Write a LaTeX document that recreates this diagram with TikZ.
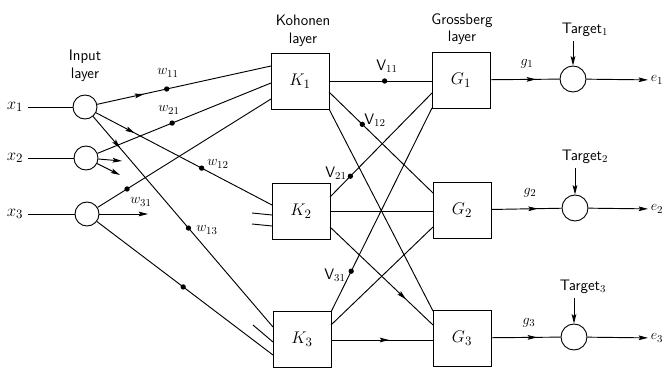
\documentclass[tikz,border=0pt]{standalone}
\usetikzlibrary{arrows.meta,decorations.markings}
\begin{document}
\begin{tikzpicture}[x=0.3mm,y=-0.3mm,line width=0.8pt,font=\sffamily\fontsize{13}{15}\selectfont,
  neuron/.style={circle,draw,minimum size=7.2mm,inner sep=0pt},
  outneuron/.style={circle,draw,minimum size=7.8mm,inner sep=0pt},
  unit/.style={rectangle,draw,minimum width=17.4mm,minimum height=16.8mm,inner sep=0pt,font=\fontsize{15}{17}\selectfont},
  wdot/.style={circle,fill,inner sep=0pt,minimum size=1.6mm},
  lbl/.style={inner sep=0pt},
  tip/.style={-{Stealth[length=8pt,width=4pt,inset=1.5pt]}},
  arrowat/.style={postaction={decorate,decoration={markings,mark=at position #1 with {\arrow{Stealth[length=8pt,width=4pt,inset=1.5pt]}}}}}]
\useasboundingbox (0,0) rectangle (668,368);
% layer titles
\node[align=center,lbl] (intitle) at (85,66) {Input\\layer};
\node[align=center,lbl] (kohtitle) at (303,31) {Kohonen\\layer};
\node[align=center,lbl] (grotitle) at (462,29) {Grossberg\\layer};
% input layer
\node[neuron] (x1n) at (85,107) {};
\node[neuron] (x2n) at (86,158) {};
\node[neuron] (x3n) at (87,214) {};
\node[inner sep=4pt,font=\fontsize{15}{17}\selectfont] (x1l) at (15,107) {$x_1$};
\node[inner sep=4pt,font=\fontsize{15}{17}\selectfont] (x2l) at (15,158) {$x_2$};
\node[inner sep=4pt,font=\fontsize{15}{17}\selectfont] (x3l) at (15,214) {$x_3$};
\draw (x1l) -- (x1n);
\draw (x2l) -- (x2n);
\draw (x3l) -- (x3n);
% Kohonen and Grossberg units
\node[unit] (K1) at (300,81) {$K_1$};
\node[unit] (K2) at (301,211) {$K_2$};
\node[unit] (K3) at (302,339) {$K_3$};
\node[unit] (G1) at (461,80) {$G_1$};
\node[unit] (G2) at (462,210) {$G_2$};
\node[unit] (G3) at (462,338) {$G_3$};
% ports
\coordinate (K1i1) at (271,66);  \coordinate (K1i2) at (271,83);  \coordinate (K1i3) at (271,99);
\coordinate (K2i1) at (272,205); \coordinate (K2i2) at (272,215); \coordinate (K2i3) at (272,226);
\coordinate (K3i1) at (273,327); \coordinate (K3i2) at (273,342); \coordinate (K3i3) at (273,355);
\coordinate (K1o1) at (329,81);  \coordinate (K1o2) at (329,92);  \coordinate (K1o3) at (329,109);
\coordinate (K2o1) at (330,197); \coordinate (K2o2) at (330,211); \coordinate (K2o3) at (330,227);
\coordinate (K3o1) at (331,312); \coordinate (K3o2) at (331,325); \coordinate (K3o3) at (331,340);
\coordinate (G1i1) at (432,81);  \coordinate (G1i2) at (432,93);  \coordinate (G1i3) at (432,108);
\coordinate (G2i1) at (433,193); \coordinate (G2i2) at (433,211); \coordinate (G2i3) at (433,227);
\coordinate (G3i1) at (433,311); \coordinate (G3i2) at (433,325); \coordinate (G3i3) at (433,340);
\coordinate (s21) at (252,213); \coordinate (s22) at (252,224); \coordinate (s31) at (253,325);
\coordinate (a21) at (122,161); \coordinate (a22) at (120,175); \coordinate (a31) at (148,214);
% input -> Kohonen
\draw[arrowat=0.27] (x1n) -- node[wdot,pos=0.40] (d11) {} (K1i1);
\draw[arrowat=0.22] (x1n) -- node[wdot,pos=0.60] (d12) {} (K2i1);
\draw[arrowat=0.15] (x1n) -- node[wdot,pos=0.53] (d13) {} (K3i1);
\draw (x2n) -- node[wdot,pos=0.43] (d21) {} (K1i2);
\draw (x3n) -- node[wdot,pos=0.17] (d31) {} (K1i3);
\draw (x3n) -- node[wdot,pos=0.49] (d33) {} (K3i3);
\draw[tip] (x2n) -- (a21);
\draw[tip] (x2n) -- (a22);
\draw[tip] (x3n) -- (a31);
\draw (s21) -- (K2i2);
\draw (s22) -- (K2i3);
\draw (s31) -- (K3i2);
\node[lbl] (w11) at (168,73) {$w_{11}$};
\node[lbl] (w21) at (169,110) {$w_{21}$};
\node[lbl] (w12) at (218,164) {$w_{12}$};
\node[lbl] (w31) at (141,202) {$w_{31}$};
\node[lbl] (w13) at (207,230) {$w_{13}$};
% Kohonen -> Grossberg
\draw (K1o1) -- node[wdot,pos=0.54] (v11) {} (G1i1);
\draw (K1o2) -- node[wdot,pos=0.32] (v12) {} (G2i1);
\draw (K1o3) -- (G3i1);
\draw (K2o1) -- node[wdot,pos=0.20] (v21) {} (G1i2);
\draw (K2o2) -- (G2i2);
\draw[arrowat=0.74] (K2o3) -- (G3i2);
\draw (K3o1) -- node[wdot,pos=0.20] (v31) {} (G1i3);
\draw (K3o2) -- (G2i3);
\draw[arrowat=0.57] (K3o3) -- (G3i3);
\node[lbl] (V11) at (387,66) {V$_{11}$};
\node[lbl] (V12) at (375,120) {V$_{12}$};
\node[lbl] (V21) at (336,173) {V$_{21}$};
\node[lbl] (V31) at (335,275) {V$_{31}$};
% outputs
\node[outneuron] (O1) at (573,79) {};
\node[outneuron] (O2) at (575,208) {};
\node[outneuron] (O3) at (574,337) {};
\draw[arrowat=0.66] (G1) -- (O1);
\draw[arrowat=0.66] (G2) -- (O2);
\draw[arrowat=0.66] (G3) -- (O3);
\node[lbl] (g1) at (527,64) {$g_1$};
\node[lbl] (g2) at (530,193) {$g_2$};
\node[lbl] (g3) at (529,323) {$g_3$};
\node[lbl] (T1) at (585,30) {Target$_1$};
\node[lbl] (T2) at (585,157) {Target$_2$};
\node[lbl] (T3) at (583,287) {Target$_3$};
\draw[tip] ([yshift=-3pt]T1.south -| O1) -- (O1);
\draw[tip] ([yshift=-3pt]T2.south -| O2) -- (O2);
\draw[tip] ([yshift=-3pt]T3.south -| O3) -- (O3);
\node[inner sep=2pt,anchor=west] (e1) at (648,80) {$e_1$};
\node[inner sep=2pt,anchor=west] (e2) at (648,209) {$e_2$};
\node[inner sep=2pt,anchor=west] (e3) at (648,338) {$e_3$};
\draw[tip] (O1) -- (e1);
\draw[tip] (O2) -- (e2);
\draw[tip] (O3) -- (e3);
\end{tikzpicture}
\end{document}
